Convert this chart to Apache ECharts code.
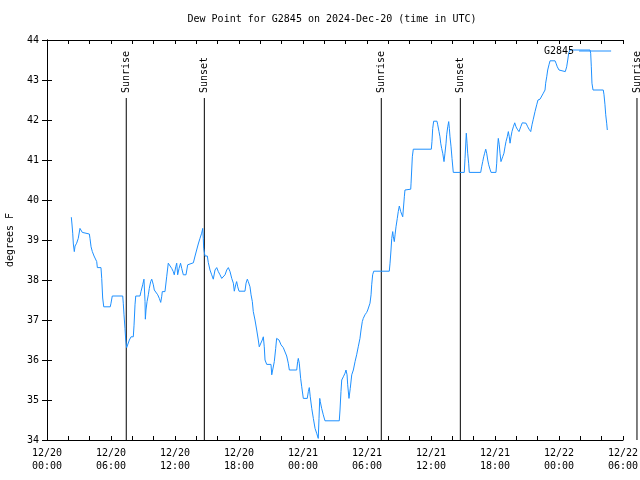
<!DOCTYPE html>
<html>
<head>
<meta charset="utf-8">
<script src="https://cdn.jsdelivr.net/npm/echarts@6/dist/echarts.min.js"></script>
<style>html,body{margin:0;padding:0;background:#fff}#c{width:640px;height:480px}</style>
</head>
<body>
<div id="c"></div>
<script>
// hours since 2024-12-20 00:00 UTC
const hours = [
2.28,2.34,2.41,2.47,2.56,2.63,2.78,2.93,3.09,3.19,3.31,3.40,3.97,4.03,4.13,4.25,4.41,4.57,4.66,4.72,
5.06,5.13,5.22,5.32,5.93,6.00,6.12,7.10,7.15,7.22,7.31,7.38,7.47,7.62,7.72,7.88,8.09,8.16,8.25,8.32,
8.72,8.81,8.97,9.09,9.19,9.22,9.28,9.38,9.50,9.59,9.72,9.82,9.97,10.06,10.22,10.38,10.53,10.66,10.75,10.81,
11.06,11.22,11.37,11.53,11.69,11.84,11.93,12.07,12.16,12.25,12.38,12.52,12.63,12.78,13.03,13.19,13.28,13.72,
13.88,14.03,14.18,14.34,14.50,14.60,14.65,14.69,14.81,15.03,15.12,15.28,15.44,15.59,15.75,15.91,16.06,16.22,
16.38,16.53,16.69,16.85,17.00,17.16,17.32,17.47,17.56,17.69,17.78,17.88,18.00,18.56,18.66,18.78,18.87,19.03,
19.13,19.25,19.34,19.50,19.66,19.81,19.90,20.06,20.18,20.28,20.37,20.44,20.60,21.00,21.07,21.22,21.31,21.44,
21.53,21.63,21.75,21.94,22.15,22.31,22.47,22.62,22.72,23.41,23.50,23.56,23.65,23.78,23.88,24.03,24.40,24.50,
24.59,24.68,24.82,24.97,25.13,25.28,25.43,25.50,25.57,25.62,25.75,25.90,26.06,27.40,27.47,27.56,27.63,27.78,
27.94,28.03,28.13,28.19,28.31,28.43,28.57,28.72,28.88,29.03,29.18,29.34,29.44,29.56,29.65,29.81,29.97,30.07,
30.22,30.28,30.38,30.44,30.53,30.63,32.09,32.16,32.25,32.32,32.41,32.47,32.56,32.63,32.72,32.84,32.93,33.03,
33.16,33.25,33.35,33.40,33.50,33.56,33.66,34.10,34.13,34.19,34.25,34.34,36.03,36.09,36.16,36.25,36.56,36.63,
36.75,36.84,36.91,37.00,37.10,37.22,37.31,37.41,37.47,37.57,37.66,37.72,37.78,37.88,37.97,38.09,39.12,39.19,
39.31,39.38,39.44,39.53,39.59,40.66,40.75,40.85,40.94,41.03,41.13,41.22,41.32,41.41,41.53,41.63,42.09,42.16,
42.22,42.31,42.40,42.47,42.56,42.72,42.84,42.94,43.03,43.15,43.25,43.34,43.41,43.50,43.59,43.72,43.85,43.97,
44.09,44.25,44.41,44.56,44.72,44.91,45.07,45.19,45.35,45.47,45.59,45.75,45.91,46.03,46.22,46.38,46.53,46.69,
46.75,46.85,46.94,47.06,47.16,47.63,47.72,47.84,48.00,48.09,48.59,48.72,48.82,48.91,49.03,50.91,50.97,51.03,
51.09,51.19,52.15,52.22,52.31,52.38,52.47,52.53
];
const dewPoint = [
39.57,39.40,39.17,38.90,38.71,38.85,38.92,39.04,39.29,39.27,39.19,39.15,39.15,39.04,38.83,38.71,38.60,38.58,38.46,38.31,
38.31,38.04,37.55,37.33,37.33,37.42,37.60,37.60,37.42,37.13,36.79,36.50,36.31,36.35,36.50,36.58,36.58,36.87,37.38,37.60,
37.60,37.71,37.88,38.02,37.46,37.02,37.25,37.46,37.63,37.79,37.96,38.02,37.88,37.75,37.71,37.63,37.54,37.44,37.58,37.71,
37.71,38.08,38.42,38.42,38.29,38.21,38.13,38.33,38.42,38.13,38.29,38.42,38.29,38.13,38.13,38.38,38.43,38.43,
38.60,38.75,38.90,39.04,39.17,39.29,39.04,38.79,38.60,38.60,38.44,38.25,38.13,38.02,38.25,38.31,38.21,38.13,
38.04,38.02,38.13,38.25,38.31,38.21,38.04,37.92,37.72,37.88,37.96,37.83,37.72,37.72,37.92,38.02,37.96,37.83,
37.63,37.46,37.21,37.00,36.75,36.50,36.33,36.33,36.50,36.58,36.33,36.00,35.89,35.89,35.63,35.63,35.96,36.29,
36.54,36.58,36.50,36.38,36.31,36.27,36.10,35.92,35.75,35.75,35.96,36.04,35.92,35.54,35.33,35.04,35.04,35.21,
35.31,35.08,34.79,34.54,34.29,34.17,34.04,34.54,35.04,34.96,34.79,34.63,34.48,34.48,34.75,35.21,35.50,35.58,
35.67,35.75,35.63,35.38,35.04,35.29,35.63,35.75,35.96,36.13,36.33,36.54,36.75,36.96,37.04,37.13,37.19,37.25,
37.25,37.42,37.63,37.88,38.13,38.22,38.22,38.42,38.75,39.04,39.21,39.08,38.96,39.13,39.33,39.54,39.71,39.85,
39.71,39.75,39.58,39.75,40.08,40.25,40.27,40.27,40.42,40.75,41.08,41.27,41.27,41.46,41.79,41.97,41.97,41.88,
41.71,41.58,41.42,41.29,41.17,40.96,41.17,41.42,41.63,41.83,41.96,41.79,41.58,41.33,41.04,40.69,40.69,41.04,
41.67,41.42,41.17,40.92,40.69,40.69,40.83,40.96,41.08,41.17,41.27,41.17,41.00,40.88,40.77,40.69,40.69,40.92,
41.25,41.54,41.38,41.17,40.96,41.08,41.17,41.33,41.46,41.58,41.71,41.58,41.42,41.58,41.71,41.83,41.93,41.83,
41.77,41.71,41.83,41.93,41.96,41.92,41.83,41.77,41.71,41.88,42.02,42.21,42.38,42.50,42.52,42.57,42.67,42.75,
42.92,43.08,43.25,43.38,43.48,43.48,43.42,43.33,43.25,43.21,43.21,43.33,43.50,43.67,43.75,43.75,43.67,43.33,
42.92,42.75,42.75,42.63,42.38,42.13,41.92,41.75
];
const sunHours = [7.43, 14.75, 31.34, 38.75, 55.31];
const sunLabels = ['Sunrise', 'Sunset', 'Sunrise', 'Sunset', 'Sunrise'];
const xTickLabels = ['12/20\n00:00','12/20\n06:00','12/20\n12:00','12/20\n18:00','12/21\n00:00',
  '12/21\n06:00','12/21\n12:00','12/21\n18:00','12/22\n00:00','12/22\n06:00'];
const seriesName = 'G2845';
const titleText = 'Dew Point for G2845 on 2024-Dec-20 (time in UTC)';

const FONT = 'DejaVu Sans Mono';
const lineData = hours.map((h, i) => [h, dewPoint[i]]);
const sunData = sunHours.map((h, i) => [h, i]);
const chart = echarts.init(document.getElementById('c'), null, {renderer: 'canvas'});
const axisCommon = {
  type: 'value', min: 0, max: 54, interval: 6,
  axisLine: {show: true, lineStyle: {color: '#000', width: 1}},
  axisTick: {show: true, inside: true, length: 4, lineStyle: {color: '#000'}},
  minorTick: {show: true, splitNumber: 3, length: 4, lineStyle: {color: '#000'}},
  splitLine: {show: false}
};
chart.setOption({
  animation: false,
  backgroundColor: '#fff',
  title: {
    text: titleText, left: 332, top: 14, textAlign: 'center', padding: 0,
    textStyle: {fontFamily: FONT, fontSize: 10, fontWeight: 'normal', color: '#000'}
  },
  legend: {
    data: [seriesName], left: 544, top: 46, align: 'right', itemGap: 0, padding: 0,
    icon: 'rect', itemWidth: 32, itemHeight: 1,
    textStyle: {fontFamily: FONT, fontSize: 10, color: '#000', padding: [0, 0, 0, 0]}
  },
  grid: {left: 47, right: 17, top: 40, bottom: 40, containLabel: false, outerBoundsMode: 'none'},
  xAxis: [
    Object.assign({}, axisCommon, {
      position: 'bottom',
      axisLabel: {
        margin: 7, lineHeight: 13, fontFamily: FONT, fontSize: 10, color: '#000',
        formatter: v => xTickLabels[Math.round(v / 6)] || ''
      }
    }),
    Object.assign({}, axisCommon, {position: 'top', axisLabel: {show: false}})
  ],
  yAxis: [
    {
      type: 'value', min: 34, max: 44, interval: 1, position: 'left',
      name: 'degrees F', nameLocation: 'middle', nameRotate: 90, nameGap: 32,
      nameTextStyle: {fontFamily: FONT, fontSize: 10, color: '#000'},
      axisLine: {show: true, lineStyle: {color: '#000'}},
      axisTick: {show: true, inside: true, length: 5, lineStyle: {color: '#000'}},
      axisLabel: {margin: 8, fontFamily: FONT, fontSize: 10, color: '#000'},
      splitLine: {show: false}
    },
    {
      type: 'value', min: 34, max: 44, interval: 1, position: 'right',
      axisLine: {show: true, lineStyle: {color: '#000'}},
      axisTick: {show: true, inside: true, length: 5, lineStyle: {color: '#000'}},
      axisLabel: {show: false},
      splitLine: {show: false}
    }
  ],
  series: [
    {
      type: 'custom', name: 'sun', xAxisIndex: 0, yAxisIndex: 0, clip: false,
      data: sunData, encode: {x: 0},
      renderItem: function (params, api) {
        const h = api.value(0);
        const idx = api.value(1);
        const p0 = api.coord([h, 34]);
        const p1 = api.coord([h, 42.55]);
        return {
          type: 'group',
          children: [
            {type: 'line', shape: {x1: p0[0], y1: p0[1], x2: p1[0], y2: p1[1]},
             style: {stroke: '#000', lineWidth: 1}},
            {type: 'text', x: p1[0], y: p1[1] - 5, rotation: Math.PI / 2,
             style: {text: sunLabels[idx], fill: '#000', font: '10px "' + FONT + '"',
                     textAlign: 'left', textVerticalAlign: 'middle'}}
          ]
        };
      }
    },
    {
      type: 'line', name: seriesName, xAxisIndex: 0, yAxisIndex: 0,
      data: lineData, showSymbol: false, symbol: 'none',
      lineStyle: {color: '#1e90ff', width: 1}, itemStyle: {color: '#1e90ff'}
    }
  ]
});
</script>
</body>
</html>
